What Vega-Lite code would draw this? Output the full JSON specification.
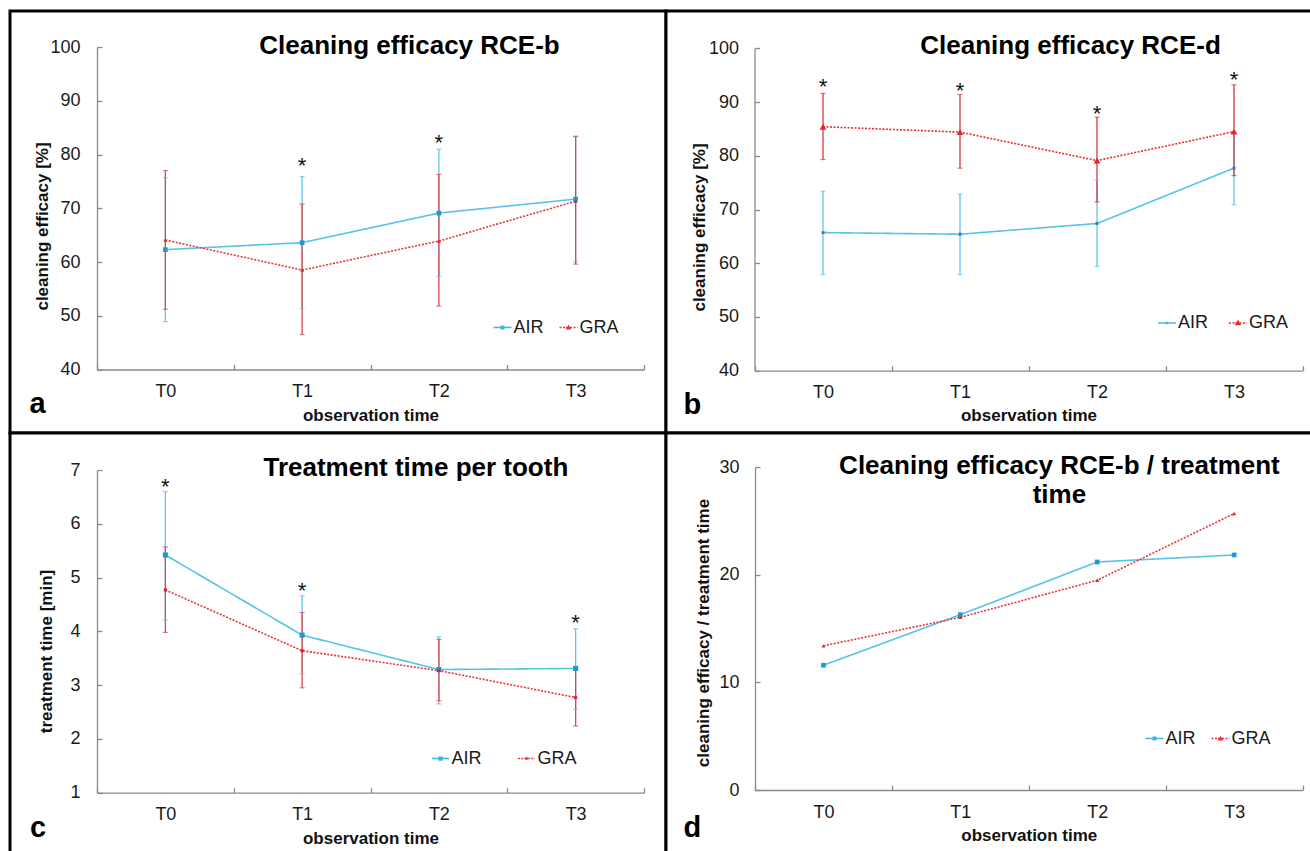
{
  "$schema": "https://vega.github.io/schema/vega-lite/v6.json",
  "background": "white",
  "padding": {"left": 8, "top": 9, "right": -7, "bottom": -8},
  "bounds": "flush",
  "spacing": 0,
  "columns": 2,
  "datasets": {
    "a": [
      {"time": "T0", "group": "AIR", "value": 62.3, "lo": 48.9, "hi": 75.7},
      {"time": "T1", "group": "AIR", "value": 63.6, "lo": 51.3, "hi": 75.9},
      {"time": "T2", "group": "AIR", "value": 69.1, "lo": 57.3, "hi": 81.0},
      {"time": "T3", "group": "AIR", "value": 71.7, "lo": 60.1, "hi": 83.3},
      {"time": "T0", "group": "GRA", "value": 64.1, "lo": 51.2, "hi": 77.0},
      {"time": "T1", "group": "GRA", "value": 58.5, "lo": 46.5, "hi": 70.8},
      {"time": "T2", "group": "GRA", "value": 63.9, "lo": 51.8, "hi": 76.3},
      {"time": "T3", "group": "GRA", "value": 71.3, "lo": 59.6, "hi": 83.4}
    ],
    "b": [
      {"time": "T0", "group": "AIR", "value": 65.7, "lo": 57.9, "hi": 73.4},
      {"time": "T1", "group": "AIR", "value": 65.4, "lo": 57.9, "hi": 72.9},
      {"time": "T2", "group": "AIR", "value": 67.4, "lo": 59.4, "hi": 75.5},
      {"time": "T3", "group": "AIR", "value": 77.7, "lo": 70.9, "hi": 84.5},
      {"time": "T0", "group": "GRA", "value": 85.4, "lo": 79.3, "hi": 91.6},
      {"time": "T1", "group": "GRA", "value": 84.4, "lo": 77.7, "hi": 91.4},
      {"time": "T2", "group": "GRA", "value": 79.1, "lo": 71.4, "hi": 87.2},
      {"time": "T3", "group": "GRA", "value": 84.5, "lo": 76.3, "hi": 93.2}
    ],
    "c": [
      {"time": "T0", "group": "AIR", "value": 5.42, "lo": 4.21, "hi": 6.6},
      {"time": "T1", "group": "AIR", "value": 3.93, "lo": 3.21, "hi": 4.66},
      {"time": "T2", "group": "AIR", "value": 3.29, "lo": 2.65, "hi": 3.9},
      {"time": "T3", "group": "AIR", "value": 3.31, "lo": 2.55, "hi": 4.05},
      {"time": "T0", "group": "GRA", "value": 4.77, "lo": 3.98, "hi": 5.57},
      {"time": "T1", "group": "GRA", "value": 3.64, "lo": 2.95, "hi": 4.35},
      {"time": "T2", "group": "GRA", "value": 3.27, "lo": 2.71, "hi": 3.85},
      {"time": "T3", "group": "GRA", "value": 2.77, "lo": 2.24, "hi": 3.3}
    ],
    "d": [
      {"time": "T0", "group": "AIR", "value": 11.6},
      {"time": "T1", "group": "AIR", "value": 16.3},
      {"time": "T2", "group": "AIR", "value": 21.2},
      {"time": "T3", "group": "AIR", "value": 21.85},
      {"time": "T0", "group": "GRA", "value": 13.4},
      {"time": "T1", "group": "GRA", "value": 16.05},
      {"time": "T2", "group": "GRA", "value": 19.5},
      {"time": "T3", "group": "GRA", "value": 25.7}
    ],
    "starsA": [{"time": "T1", "y": 78.8}, {"time": "T2", "y": 83.0}],
    "starsB": [{"time": "T0", "y": 93.8}, {"time": "T1", "y": 93.0}, {"time": "T2", "y": 88.7}, {"time": "T3", "y": 95.0}],
    "starsC": [{"time": "T0", "y": 6.78}, {"time": "T1", "y": 4.84}, {"time": "T3", "y": 4.25}]
  },
  "resolve": {
    "scale": {"color": "independent", "strokeDash": "independent"},
    "legend": {"color": "independent"}
  },
  "concat": [
    {
      "width": 656, "height": 422,
      "view": {"stroke": "black", "strokeWidth": 3, "fill": "white"},
      "layer": [
        {"data": {"name": "a"}, "mark": {"type": "rule", "strokeWidth": 1.3},
         "encoding": {
           "x": {"field": "time", "type": "ordinal", "scale": {"type": "band", "domain": ["T0", "T1", "T2", "T3"], "range": [87, 634], "paddingInner": 0, "paddingOuter": 0},
                 "axis": {"title": "observation time", "offset": -63.5, "tickBand": "extent", "tickSize": -5, "labelPadding": 32, "labelBaseline": "alphabetic", "labelAngle": 0, "titleY": 51, "titleBaseline": "alphabetic"}},
           "y": {"field": "lo", "type": "quantitative", "scale": {"domain": [40, 100], "range": [358.5, 36], "nice": false, "zero": false},
                 "axis": {"title": "cleaning efficacy [%]", "offset": -87, "values": [40, 50, 60, 70, 80, 90, 100], "format": "d", "tickSize": -5, "labelPadding": 22, "titleX": -50, "titleY": 215, "titleBaseline": "alphabetic", "titleAngle": 270}},
           "y2": {"field": "hi"},
           "stroke": {"condition": {"test": "datum.group === 'AIR'", "value": "#62c6ea"}, "value": "#d9474c"}
         }},
        {"data": {"name": "a"}, "mark": {"type": "point", "shape": "stroke", "size": 25, "strokeWidth": 1.2},
         "encoding": {"x": {"field": "time", "type": "ordinal"}, "y": {"field": "lo", "type": "quantitative"},
           "stroke": {"condition": {"test": "datum.group === 'AIR'", "value": "#62c6ea"}, "value": "#d9474c"}}},
        {"data": {"name": "a"}, "mark": {"type": "point", "shape": "stroke", "size": 25, "strokeWidth": 1.2},
         "encoding": {"x": {"field": "time", "type": "ordinal"}, "y": {"field": "hi", "type": "quantitative"},
           "stroke": {"condition": {"test": "datum.group === 'AIR'", "value": "#62c6ea"}, "value": "#d9474c"}}},
        {"data": {"name": "a"}, "mark": {"type": "line", "strokeWidth": 1.6},
         "encoding": {"x": {"field": "time", "type": "ordinal"}, "y": {"field": "value", "type": "quantitative"},
           "color": {"field": "group", "type": "nominal", "scale": {"domain": ["AIR", "GRA"], "range": ["#56c3e9", "#e8333a"]},
             "legend": {"orient": "none", "legendX": 483.5, "legendY": 307.5, "direction": "horizontal", "title": null, "labelFontSize": 18, "labelFont": "Liberation Sans", "labelColor": "#1a1a1a", "symbolSize": 324, "labelOffset": 2, "columnPadding": 15, "padding": 0,
               "encode": {"symbols": {"update": {
                 "shape": {"signal": "datum.value === 'AIR' ? 'M-1,-0.085H1V0.085H-1ZM-0.22,-0.22H0.22V0.22H-0.22Z' : 'M-1,-0.085H-0.78V0.085H-1ZM-0.61,-0.085H-0.39V0.085H-0.61ZM0.17,-0.085H0.39V0.085H0.17ZM0.56,-0.085H0.78V0.085H0.56ZM0.94,-0.085H1V0.085H0.94ZM-0.28,-0.085H0.28V0.085H-0.28ZM0,-0.3L0.3,0.22H-0.3Z'"},
                 "fill": {"signal": "datum.value === 'AIR' ? '#3cb4e4' : '#e8333a'"},
                 "stroke": {"value": "transparent"},
                 "strokeWidth": {"value": 0}}}}}},
           "strokeDash": {"field": "group", "type": "nominal", "scale": {"domain": ["AIR", "GRA"], "range": [[1, 0], [2, 1.5]]}, "legend": null}}},
        {"data": {"name": "a"}, "mark": {"type": "point", "filled": true, "opacity": 1, "strokeWidth": 0},
         "encoding": {"x": {"field": "time", "type": "ordinal"}, "y": {"field": "value", "type": "quantitative"},
           "fill": {"condition": {"test": "datum.group === 'AIR'", "value": "#1b9ad6"}, "value": "#e0262e"},
           "shape": {"condition": {"test": "datum.group === 'AIR'", "value": "square"}, "value": "triangle-up"},
           "size": {"condition": {"test": "datum.group === 'AIR'", "value": 22}, "value": 16}}},
        {"data": {"name": "starsA"}, "mark": {"type": "text", "fontSize": 22, "baseline": "alphabetic", "dy": 12, "color": "#111"},
         "encoding": {"x": {"field": "time", "type": "ordinal"}, "y": {"field": "y", "type": "quantitative"}, "text": {"value": "*"}}},
        {"data": {"values": [{"t": "Cleaning efficacy RCE-b"}]}, "mark": {"type": "text", "fontSize": 26, "fontWeight": "bold", "baseline": "alphabetic", "align": "center", "dx": -29.4, "dy": 6.5, "color": "#000"},
         "encoding": {"x": {"datum": "T2", "type": "ordinal"}, "y": {"datum": 100, "type": "quantitative"}, "text": {"field": "t"}}},
        {"data": {"values": [{"t": "a"}]}, "mark": {"type": "text", "fontSize": 29, "fontWeight": "bold", "baseline": "alphabetic", "align": "left", "dx": -136, "dy": 43, "color": "#000"},
         "encoding": {"x": {"datum": "T0", "type": "ordinal"}, "y": {"datum": 40, "type": "quantitative"}, "text": {"field": "t"}}}
      ]
    },
    {
      "width": 650, "height": 422,
      "view": {"stroke": "black", "strokeWidth": 3, "fill": "white"},
      "layer": [
        {"data": {"name": "b"}, "mark": {"type": "rule", "strokeWidth": 1.3},
         "encoding": {
           "x": {"field": "time", "type": "ordinal", "scale": {"type": "band", "domain": ["T0", "T1", "T2", "T3"], "range": [88.5, 636.5], "paddingInner": 0, "paddingOuter": 0},
                 "axis": {"title": "observation time", "offset": -62.3, "tickBand": "extent", "tickSize": -5, "labelPadding": 32, "labelBaseline": "alphabetic", "labelAngle": 0, "titleY": 50, "titleBaseline": "alphabetic"}},
           "y": {"field": "lo", "type": "quantitative", "scale": {"domain": [40, 100], "range": [359.7, 37.3], "nice": false, "zero": false},
                 "axis": {"title": "cleaning efficacy [%]", "offset": -88.5, "values": [40, 50, 60, 70, 80, 90, 100], "format": "d", "tickSize": -5, "labelPadding": 21, "titleX": -50.5, "titleY": 216, "titleBaseline": "alphabetic", "titleAngle": 270}},
           "y2": {"field": "hi"},
           "stroke": {"condition": {"test": "datum.group === 'AIR'", "value": "#62c6ea"}, "value": "#d23b40"}
         }},
        {"data": {"name": "b"}, "mark": {"type": "point", "shape": "stroke", "size": 25, "strokeWidth": 1.2},
         "encoding": {"x": {"field": "time", "type": "ordinal"}, "y": {"field": "lo", "type": "quantitative"},
           "stroke": {"condition": {"test": "datum.group === 'AIR'", "value": "#62c6ea"}, "value": "#d23b40"}}},
        {"data": {"name": "b"}, "mark": {"type": "point", "shape": "stroke", "size": 25, "strokeWidth": 1.2},
         "encoding": {"x": {"field": "time", "type": "ordinal"}, "y": {"field": "hi", "type": "quantitative"},
           "stroke": {"condition": {"test": "datum.group === 'AIR'", "value": "#62c6ea"}, "value": "#d23b40"}}},
        {"data": {"name": "b"}, "mark": {"type": "line", "strokeWidth": 1.6},
         "encoding": {"x": {"field": "time", "type": "ordinal"}, "y": {"field": "value", "type": "quantitative"},
           "color": {"field": "group", "type": "nominal", "scale": {"domain": ["AIR", "GRA"], "range": ["#56c3e9", "#ee2a2a"]},
             "legend": {"orient": "none", "legendX": 492, "legendY": 303, "direction": "horizontal", "title": null, "labelFontSize": 18, "labelFont": "Liberation Sans", "labelColor": "#1a1a1a", "symbolSize": 324, "labelOffset": 2, "columnPadding": 20, "padding": 0,
               "encode": {"symbols": {"update": {
                 "shape": {"signal": "datum.value === 'AIR' ? 'M-1,-0.085H1V0.085H-1ZM-0.15,-0.15H0.15V0.15H-0.15Z' : 'M-1,-0.085H-0.78V0.085H-1ZM-0.61,-0.085H-0.39V0.085H-0.61ZM0.17,-0.085H0.39V0.085H0.17ZM0.56,-0.085H0.78V0.085H0.56ZM0.94,-0.085H1V0.085H0.94ZM-0.28,-0.085H0.28V0.085H-0.28ZM0,-0.36L0.36,0.26H-0.36Z'"},
                 "fill": {"signal": "datum.value === 'AIR' ? '#4fb6e4' : '#ee2a2a'"},
                 "stroke": {"value": "transparent"},
                 "strokeWidth": {"value": 0}}}}}},
           "strokeDash": {"field": "group", "type": "nominal", "scale": {"domain": ["AIR", "GRA"], "range": [[1, 0], [2, 1.5]]}, "legend": null}}},
        {"data": {"name": "b"}, "mark": {"type": "point", "filled": true, "opacity": 1, "strokeWidth": 0},
         "encoding": {"x": {"field": "time", "type": "ordinal"}, "y": {"field": "value", "type": "quantitative"},
           "fill": {"condition": {"test": "datum.group === 'AIR'", "value": "#4a72c0"}, "value": "#e8202a"},
           "shape": {"condition": {"test": "datum.group === 'AIR'", "value": "square"}, "value": "triangle-up"},
           "size": {"condition": {"test": "datum.group === 'AIR'", "value": 9}, "value": 45}}},
        {"data": {"name": "starsB"}, "mark": {"type": "text", "fontSize": 22, "baseline": "alphabetic", "dy": 12, "color": "#111"},
         "encoding": {"x": {"field": "time", "type": "ordinal"}, "y": {"field": "y", "type": "quantitative"}, "text": {"value": "*"}}},
        {"data": {"values": [{"t": "Cleaning efficacy RCE-d"}]}, "mark": {"type": "text", "fontSize": 26, "fontWeight": "bold", "baseline": "alphabetic", "align": "center", "dx": -26.5, "dy": 5.5, "color": "#000"},
         "encoding": {"x": {"datum": "T2", "type": "ordinal"}, "y": {"datum": 100, "type": "quantitative"}, "text": {"field": "t"}}},
        {"data": {"values": [{"t": "b"}]}, "mark": {"type": "text", "fontSize": 29, "fontWeight": "bold", "baseline": "alphabetic", "align": "left", "dx": -139.5, "dy": 42.8, "color": "#000"},
         "encoding": {"x": {"datum": "T0", "type": "ordinal"}, "y": {"datum": 40, "type": "quantitative"}, "text": {"field": "t"}}}
      ]
    },
    {
      "width": 656, "height": 425,
      "view": {"stroke": "black", "strokeWidth": 3, "fill": "white"},
      "layer": [
        {"data": {"name": "c"}, "mark": {"type": "rule", "strokeWidth": 1.3},
         "encoding": {
           "x": {"field": "time", "type": "ordinal", "scale": {"type": "band", "domain": ["T0", "T1", "T2", "T3"], "range": [87, 634], "paddingInner": 0, "paddingOuter": 0},
                 "axis": {"title": "observation time", "offset": -65.3, "tickBand": "extent", "tickSize": -5, "labelPadding": 32, "labelBaseline": "alphabetic", "labelAngle": 0, "titleY": 50.6, "titleBaseline": "alphabetic"}},
           "y": {"field": "lo", "type": "quantitative", "scale": {"domain": [1, 7], "range": [359.7, 37], "nice": false, "zero": false},
                 "axis": {"title": "treatment time [min]", "offset": -87, "values": [1, 2, 3, 4, 5, 6, 7], "format": "d", "tickSize": -5, "labelPadding": 22, "titleX": -46, "titleY": 218, "titleBaseline": "alphabetic", "titleAngle": 270}},
           "y2": {"field": "hi"},
           "stroke": {"condition": {"test": "datum.group === 'AIR'", "value": "#62c6ea"}, "value": "#d9474c"}
         }},
        {"data": {"name": "c"}, "mark": {"type": "point", "shape": "stroke", "size": 25, "strokeWidth": 1.2},
         "encoding": {"x": {"field": "time", "type": "ordinal"}, "y": {"field": "lo", "type": "quantitative"},
           "stroke": {"condition": {"test": "datum.group === 'AIR'", "value": "#62c6ea"}, "value": "#d9474c"}}},
        {"data": {"name": "c"}, "mark": {"type": "point", "shape": "stroke", "size": 25, "strokeWidth": 1.2},
         "encoding": {"x": {"field": "time", "type": "ordinal"}, "y": {"field": "hi", "type": "quantitative"},
           "stroke": {"condition": {"test": "datum.group === 'AIR'", "value": "#62c6ea"}, "value": "#d9474c"}}},
        {"data": {"name": "c"}, "mark": {"type": "line", "strokeWidth": 1.6},
         "encoding": {"x": {"field": "time", "type": "ordinal"}, "y": {"field": "value", "type": "quantitative"},
           "color": {"field": "group", "type": "nominal", "scale": {"domain": ["AIR", "GRA"], "range": ["#56c3e9", "#e8333a"]},
             "legend": {"orient": "none", "legendX": 421.5, "legendY": 316.5, "direction": "horizontal", "title": null, "labelFontSize": 18, "labelFont": "Liberation Sans", "labelColor": "#1a1a1a", "symbolSize": 289, "labelOffset": 2, "columnPadding": 35, "padding": 0,
               "encode": {"symbols": {"update": {
                 "shape": {"signal": "datum.value === 'AIR' ? 'M-1,-0.09H1V0.09H-1ZM-0.25,-0.25H0.25V0.25H-0.25Z' : 'M-1,-0.09H-0.78V0.09H-1ZM-0.61,-0.09H-0.39V0.09H-0.61ZM0.17,-0.09H0.39V0.09H0.17ZM0.56,-0.09H0.78V0.09H0.56ZM0.94,-0.09H1V0.09H0.94ZM-0.26,-0.09H0.26V0.09H-0.26ZM-0.16,-0.16H0.16V0.16H-0.16Z'"},
                 "fill": {"signal": "datum.value === 'AIR' ? '#3cb4e4' : '#e8333a'"},
                 "stroke": {"value": "transparent"},
                 "strokeWidth": {"value": 0}}}}}},
           "strokeDash": {"field": "group", "type": "nominal", "scale": {"domain": ["AIR", "GRA"], "range": [[1, 0], [2, 1.5]]}, "legend": null}}},
        {"data": {"name": "c"}, "mark": {"type": "point", "filled": true, "opacity": 1, "strokeWidth": 0},
         "encoding": {"x": {"field": "time", "type": "ordinal"}, "y": {"field": "value", "type": "quantitative"},
           "fill": {"condition": {"test": "datum.group === 'AIR'", "value": "#1b9ad6"}, "value": "#e0262e"},
           "shape": {"value": "square"},
           "size": {"condition": {"test": "datum.group === 'AIR'", "value": 26}, "value": 10}}},
        {"data": {"name": "starsC"}, "mark": {"type": "text", "fontSize": 22, "baseline": "alphabetic", "dy": 12, "color": "#111"},
         "encoding": {"x": {"field": "time", "type": "ordinal"}, "y": {"field": "y", "type": "quantitative"}, "text": {"value": "*"}}},
        {"data": {"values": [{"t": "Treatment time per tooth"}]}, "mark": {"type": "text", "fontSize": 26, "fontWeight": "bold", "baseline": "alphabetic", "align": "center", "dx": -23, "dy": 5.5, "color": "#000"},
         "encoding": {"x": {"datum": "T2", "type": "ordinal"}, "y": {"datum": 7, "type": "quantitative"}, "text": {"field": "t"}}},
        {"data": {"values": [{"t": "c"}]}, "mark": {"type": "text", "fontSize": 29, "fontWeight": "bold", "baseline": "alphabetic", "align": "left", "dx": -135.4, "dy": 44.3, "color": "#000"},
         "encoding": {"x": {"datum": "T0", "type": "ordinal"}, "y": {"datum": 1, "type": "quantitative"}, "text": {"field": "t"}}}
      ]
    },
    {
      "width": 650, "height": 425,
      "view": {"stroke": "black", "strokeWidth": 3, "fill": "white"},
      "layer": [
        {"data": {"name": "d"}, "mark": {"type": "line", "strokeWidth": 1.6},
         "encoding": {
           "x": {"field": "time", "type": "ordinal", "scale": {"type": "band", "domain": ["T0", "T1", "T2", "T3"], "range": [89, 636.6], "paddingInner": 0, "paddingOuter": 0},
                 "axis": {"title": "observation time", "offset": -68, "tickBand": "extent", "tickSize": -5, "labelPadding": 32, "labelBaseline": "alphabetic", "labelAngle": 0, "titleY": 50, "titleBaseline": "alphabetic"}},
           "y": {"field": "value", "type": "quantitative", "scale": {"domain": [0, 30], "range": [357, 34.3], "nice": false, "zero": false},
                 "axis": {"title": "cleaning efficacy / treatment time", "offset": -89, "values": [0, 10, 20, 30], "format": "d", "tickSize": -5, "labelPadding": 21, "titleX": -47, "titleY": 199.5, "titleBaseline": "alphabetic", "titleAngle": 270}},
           "color": {"field": "group", "type": "nominal", "scale": {"domain": ["AIR", "GRA"], "range": ["#56c3e9", "#e8333a"]},
             "legend": {"orient": "none", "legendX": 479.5, "legendY": 296.5, "direction": "horizontal", "title": null, "labelFontSize": 18, "labelFont": "Liberation Sans", "labelColor": "#1a1a1a", "symbolSize": 324, "labelOffset": 2, "columnPadding": 15, "padding": 0,
               "encode": {"symbols": {"update": {
                 "shape": {"signal": "datum.value === 'AIR' ? 'M-1,-0.085H1V0.085H-1ZM-0.22,-0.22H0.22V0.22H-0.22Z' : 'M-1,-0.085H-0.78V0.085H-1ZM-0.61,-0.085H-0.39V0.085H-0.61ZM0.17,-0.085H0.39V0.085H0.17ZM0.56,-0.085H0.78V0.085H0.56ZM0.94,-0.085H1V0.085H0.94ZM-0.28,-0.085H0.28V0.085H-0.28ZM0,-0.3L0.3,0.22H-0.3Z'"},
                 "fill": {"signal": "datum.value === 'AIR' ? '#3cb4e4' : '#e8333a'"},
                 "stroke": {"value": "transparent"},
                 "strokeWidth": {"value": 0}}}}}},
           "strokeDash": {"field": "group", "type": "nominal", "scale": {"domain": ["AIR", "GRA"], "range": [[1, 0], [2, 1.5]]}, "legend": null}}},
        {"data": {"name": "d"}, "mark": {"type": "point", "filled": true, "opacity": 1, "strokeWidth": 0},
         "encoding": {"x": {"field": "time", "type": "ordinal"}, "y": {"field": "value", "type": "quantitative"},
           "fill": {"condition": {"test": "datum.group === 'AIR'", "value": "#1b9ad6"}, "value": "#e0262e"},
           "shape": {"condition": {"test": "datum.group === 'AIR'", "value": "square"}, "value": "triangle-up"},
           "size": {"condition": {"test": "datum.group === 'AIR'", "value": 22}, "value": 16}}},
        {"data": {"values": [{"t": "Cleaning efficacy RCE-b / treatment\ntime"}]}, "mark": {"type": "text", "fontSize": 26, "fontWeight": "bold", "baseline": "alphabetic", "align": "center", "lineBreak": "\n", "lineHeight": 29, "dx": -37.8, "dy": 6.5, "color": "#000"},
         "encoding": {"x": {"datum": "T2", "type": "ordinal"}, "y": {"datum": 30, "type": "quantitative"}, "text": {"field": "t"}}},
        {"data": {"values": [{"t": "d"}]}, "mark": {"type": "text", "fontSize": 29, "fontWeight": "bold", "baseline": "alphabetic", "align": "left", "dx": -140, "dy": 47, "color": "#000"},
         "encoding": {"x": {"datum": "T0", "type": "ordinal"}, "y": {"datum": 0, "type": "quantitative"}, "text": {"field": "t"}}}
      ]
    }
  ],
  "config": {
    "font": "Liberation Sans",
    "axis": {"labelFont": "Liberation Sans", "labelFontSize": 18, "labelColor": "#1a1a1a", "titleFont": "Liberation Sans", "titleFontSize": 17, "titleFontWeight": "bold", "titleColor": "#111", "domainColor": "#8a8a8a", "tickColor": "#8a8a8a", "domainWidth": 1.3, "tickWidth": 1.3, "grid": false},
    "text": {"font": "Liberation Sans"},
    "legend": {"labelFont": "Liberation Sans"}
  }
}
